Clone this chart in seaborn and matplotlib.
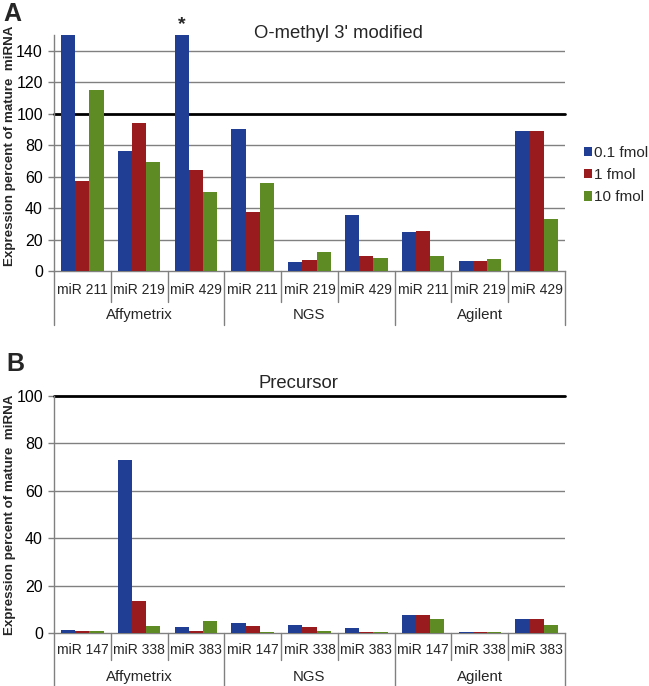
import matplotlib
matplotlib.use("Agg")
import matplotlib.pyplot as plt
import seaborn as sns
import pandas as pd
from matplotlib.patches import Patch

sns.set_theme(style="white")
plt.rcParams['font.family'] = ['Liberation Sans', 'DejaVu Sans']

platforms = ["Affymetrix", "NGS", "Agilent"]
doses = ["0.1 fmol", "1 fmol", "10 fmol"]
colors = ["#1F3E94", "#9A1B1E", "#5E8B24"]

mirs_a = ["miR 211", "miR 219", "miR 429"]
a_01 = [150, 76, 150, 90, 6, 35.5, 25, 6.5, 89]
a_1 = [57, 94, 64.5, 37.5, 7, 9.3, 25.3, 6.5, 89]
a_10 = [115, 69, 50, 56, 12, 8.5, 9.5, 7.8, 32.8]

mirs_b = ["miR 147", "miR 338", "miR 383"]
b_01 = [1.1, 73, 2.5, 4.3, 3.4, 2.0, 7.4, 0.5, 5.8]
b_1 = [0.8, 13.5, 1.0, 3.0, 2.5, 0.6, 7.5, 0.5, 5.8]
b_10 = [1.0, 2.8, 5.2, 0.6, 1.0, 0.5, 5.7, 0.4, 3.4]

title_a = "O-methyl 3' modified"
title_b = "Precursor"
ylabel = "Expression percent of mature  miRNA"


def make_df(mirs, v01, v1, v10):
    rows = []
    cats = []
    for p in platforms:
        for m in mirs:
            cats.append(f"{p}|{m}")
    for vals, d in zip([v01, v1, v10], doses):
        for c, v in zip(cats, vals):
            rows.append({"cat": c, "dose": d, "value": v})
    return pd.DataFrame(rows), cats


fig = plt.figure(figsize=(6.49, 6.86), dpi=100)
W, H = 649, 686
axA = fig.add_axes([54 / W, (H - 271) / H, 511 / W, 236 / H])
axB = fig.add_axes([54 / W, (H - 633) / H, 511 / W, 237 / H])

grid_col = "#808080"


def draw(ax, mirs, v01, v1, v10, ymax, step, title, title_x, title_y,
         short_sep, long_sep, lab1_y, lab2_y, ylab_y):
    df, cats = make_df(mirs, v01, v1, v10)
    sns.barplot(data=df, x="cat", y="value", hue="dose", order=cats,
                hue_order=doses, palette=colors, width=0.75, ax=ax,
                saturation=1, legend=False, edgecolor="none", zorder=3)
    ax.set_ylim(0, ymax)
    ax.set_xlim(-0.5, len(cats) - 0.5)
    ticks = [t for t in range(0, int(ymax) + 1, step) if t <= ymax]
    ax.set_yticks(ticks)
    ax.set_yticklabels([str(t) for t in ticks], fontsize=11.5)
    for t in ticks:
        if t == 0:
            continue
        if t == 100:
            ax.axhline(t, color="black", lw=2.0, zorder=2, clip_on=False)
        else:
            ax.axhline(t, color=grid_col, lw=1.0, zorder=1)
    ax.tick_params(axis="y", which="both", left=True, length=4, width=1,
                   color=grid_col, pad=4, labelcolor="black")
    ax.tick_params(axis="x", bottom=False, labelbottom=False)
    ax.set_xlabel("")
    ax.set_ylabel(ylabel, fontsize=9.6, fontweight="bold")
    ax.yaxis.set_label_coords((16 - 54) / 511, ylab_y)
    for s in ["top", "right"]:
        ax.spines[s].set_visible(False)
    for s in ["left", "bottom"]:
        ax.spines[s].set_color(grid_col)
        ax.spines[s].set_linewidth(1.0)
    tr = ax.get_xaxis_transform()
    for i in range(len(cats) + 1):
        x = i - 0.5
        ybot = long_sep if i % 3 == 0 else short_sep
        ax.plot([x, x], [0, ybot], transform=tr, color=grid_col, lw=1.0,
                clip_on=False)
    for i, c in enumerate(cats):
        ax.text(i, lab1_y, c.split("|")[1], transform=tr, ha="center",
                va="center", fontsize=10)
    for j, p in enumerate(platforms):
        ax.text(3 * j + 1, lab2_y, p, transform=tr, ha="center",
                va="center", fontsize=10.8)
    fig.text(title_x / W, 1 - title_y / H, title, ha="center", va="center",
             fontsize=13.3)
    return cats


draw(axA, mirs_a, a_01, a_1, a_10, 150, 20, title_a, 338, 33,
     -31 / 236, -54 / 236, -19 / 236, -44 / 236, 0.53)
draw(axB, mirs_b, b_01, b_1, b_10, 100, 20, title_b, 298, 384,
     -27 / 237, -53 / 237, -17 / 237, -44 / 237, 0.5)

# asterisk above clipped bar
axA.text(2 - 0.25, 151, "*", ha="center", va="bottom", fontsize=14,
         fontweight="bold", clip_on=False)

# legend
handles = [Patch(facecolor=c, edgecolor="none") for c in colors]
fig.legend(handles, doses, loc="center left",
           bbox_to_anchor=(584 / W, 1 - 175 / H), frameon=False,
           fontsize=11, handlelength=0.55, handleheight=0.55,
           handletextpad=0.12, labelspacing=0.55, borderaxespad=0,
           borderpad=0)

fig.text(3 / W, 1 - 14 / H, "A", fontsize=18, fontweight="bold",
         ha="left", va="center")
fig.text(6 / W, 1 - 364 / H, "B", fontsize=18, fontweight="bold",
         ha="left", va="center")

fig.savefig("out.png", dpi=100)
